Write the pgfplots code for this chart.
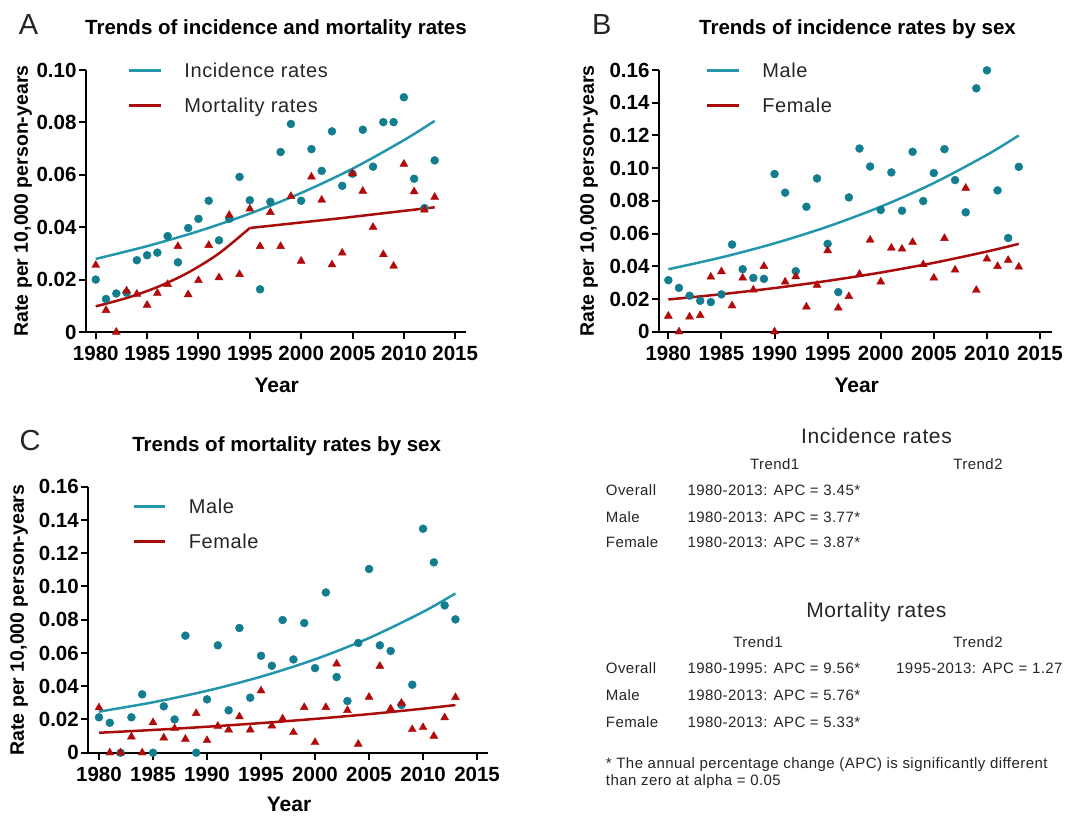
\documentclass[border=0pt]{standalone}
\usepackage{pgfplots}
\pgfplotsset{compat=1.18}
\usepackage{pgfplotstable}
\usepackage{fontspec}
\setmainfont{Liberation Sans}
\newfontfamily\legfont[LetterSpace=3]{Liberation Sans}
\definecolor{tealL}{RGB}{35,150,172}
\definecolor{tealM}{RGB}{18,125,142}
\definecolor{redL}{RGB}{170,12,12}
\definecolor{redM}{RGB}{178,10,10}
\definecolor{txt}{RGB}{40,36,36}

% Panel A data
\pgfplotstableread{
year inc mort
1980 0.0200 0.0255
1981 0.0126 0.0083
1982 0.0147 0.0000
1983 0.0150 0.0157
1984 0.0274 0.0145
1985 0.0293 0.0103
1986 0.0303 0.0148
1987 0.0366 0.0182
1988 0.0266 0.0327
1989 0.0397 0.0143
1990 0.0432 0.0197
1991 0.0501 0.0331
1992 0.0350 0.0208
1993 0.0432 0.0446
1994 0.0592 0.0220
1995 0.0503 0.0470
1996 0.0163 0.0327
1997 0.0497 0.0457
1998 0.0687 0.0327
1999 0.0794 0.0518
2000 0.0501 0.0271
2001 0.0698 0.0592
2002 0.0615 0.0504
2003 0.0766 0.0257
2004 0.0558 0.0302
2005 0.0604 0.0605
2006 0.0772 0.0538
2007 0.0631 0.0400
2008 0.0801 0.0296
2009 0.0801 0.0252
2010 0.0896 0.0641
2011 0.0585 0.0536
2012 0.0473 0.0466
2013 0.0655 0.0515
}\dataA
\pgfplotstableread{
year v
1980 0.0279
1985 0.03277
1990 0.03848
1995 0.04519
2000 0.05307
2005 0.06233
2010 0.07320
2013 0.0806
}\fitAinc
\pgfplotstableread{
year v
1980 0.0098
1983 0.01297
1986 0.01715
1989 0.02269
1992 0.03001
1995 0.0397
}\fitAmortI
\pgfplotstableread{
year v
1995 0.0397
2004 0.0435
2013 0.0476
}\fitAmortII

% Panel B data
\pgfplotstableread{
year male female
1980 0.0315 0.0096
1981 0.0268 0.0000
1982 0.0220 0.0091
1983 0.0189 0.0100
1984 0.0181 0.0335
1985 0.0228 0.0368
1986 0.0533 0.0159
1987 0.0382 0.0329
1988 0.0329 0.0256
1989 0.0323 0.0400
1990 0.0964 0.0000
1991 0.0850 0.0305
1992 0.0370 0.0337
1993 0.0764 0.0152
1994 0.0937 0.0285
1995 0.0537 0.0496
1996 0.0242 0.0146
1997 0.0821 0.0216
1998 0.1120 0.0352
1999 0.1010 0.0561
2000 0.0744 0.0305
2001 0.0974 0.0512
2002 0.0740 0.0506
2003 0.1100 0.0547
2004 0.0799 0.0411
2005 0.0970 0.0329
2006 0.1116 0.0571
2007 0.0927 0.0378
2008 0.0730 0.0878
2009 0.1488 0.0254
2010 0.1598 0.0445
2011 0.0864 0.0400
2012 0.0573 0.0437
2013 0.1008 0.0396
}\dataB
\pgfplotstableread{
year m f
1980 0.0382 0.0197
1985 0.04543 0.02293
1990 0.05403 0.02670
1995 0.06426 0.03108
2000 0.07643 0.03618
2005 0.09090 0.04212
2010 0.10812 0.04902
2013 0.1200 0.0537
}\fitB

% Panel C data
\pgfplotstableread{
year male female
1980 0.0213 0.0271
1981 0.0180 0.0000
1982 0.0000 0.0000
1983 0.0213 0.0096
1984 0.0351 0.0000
1985 0.0000 0.0182
1986 0.0279 0.0090
1987 0.0200 0.0146
1988 0.0704 0.0082
1989 0.0000 0.0237
1990 0.0321 0.0074
1991 0.0646 0.0160
1992 0.0255 0.0138
1993 0.0750 0.0217
1994 0.0331 0.0138
1995 0.0583 0.0373
1996 0.0523 0.0162
1997 0.0798 0.0205
1998 0.0561 0.0122
1999 0.0780 0.0273
2000 0.0509 0.0062
2001 0.0964 0.0273
2002 0.0455 0.0535
2003 0.0311 0.0255
2004 0.0660 0.0052
2005 0.1105 0.0335
2006 0.0646 0.0521
2007 0.0612 0.0265
2008 0.0287 0.0299
2009 0.0409 0.0140
2010 0.1347 0.0152
2011 0.1145 0.0100
2012 0.0886 0.0211
2013 0.0802 0.0333
}\dataC
\pgfplotstableread{
year m f
1980 0.0247 0.0120
1985 0.03033 0.01369
1990 0.03725 0.01563
1995 0.04574 0.01783
2000 0.05617 0.02035
2005 0.06898 0.02322
2010 0.08471 0.02649
2013 0.0958 0.0287
}\fitC

\pgfplotsset{
  panel/.style={
    scale only axis, anchor=south west,
    axis lines=left, axis line style={-, line width=2.2pt, black},
    tick style={line width=2pt, black}, major tick length=7pt, tick align=outside,
    xtick={1980,1985,1990,1995,2000,2005,2010,2015},
    xticklabels={1980,1985,1990,1995,2000,2005,2010,2015},
    ticklabel style={font=\fontsize{20.5}{21}\selectfont\bfseries},
    xticklabel style={yshift=-4pt},
    yticklabel style={xshift=1pt},
    ymin=0, clip=false,
    legend cell align=left,
    legend style={draw=none, fill=none, anchor=north west, inner sep=0pt, outer sep=0pt,
      row sep=21pt, column sep=22pt,
      font=\legfont\fontsize{20}{20}\selectfont\color{txt},
      nodes={inner sep=0pt, text height=14pt, text depth=0pt}},
    legend image code/.code={\draw[#1, line width=3pt] (0pt,0pt) -- (31.6pt,0pt);},
  },
  circ/.style={only marks, mark=*, mark size=4pt, mark options={fill=tealM, draw=tealM}, forget plot},
  tri/.style={only marks, mark=triangle*, mark size=4.6pt, mark options={fill=redM, draw=redM}, forget plot},
}

\begin{document}
\begin{tikzpicture}
\path[use as bounding box] (0pt,0pt) rectangle (1067pt,-815pt);

% ---------- Panel A ----------
\begin{axis}[panel, at={(86pt,-332pt)}, width=380pt, height=262pt,
  xmin=1979.05, xmax=2016.05, ymax=0.10,
  ytick={0,0.02,0.04,0.06,0.08,0.10}, yticklabels={0,0.02,0.04,0.06,0.08,0.10},
  legend style={at={(axis description cs:0.11,1.024)}}]
\addplot[tealL, line width=2.5pt, smooth] table[x=year,y=v]{\fitAinc};
\addlegendentry{Incidence rates}
\addplot[redL, line width=2.5pt, smooth] table[x=year,y=v]{\fitAmortI};
\addlegendentry{Mortality rates}
\addplot[redL, line width=2.5pt, forget plot] table[x=year,y=v]{\fitAmortII};
\addplot[circ] table[x=year,y=inc]{\dataA};
\addplot[tri] table[x=year,y=mort]{\dataA};
\end{axis}

% ---------- Panel B ----------
\begin{axis}[panel, at={(659pt,-331.7pt)}, width=392.7pt, height=261.7pt,
  xmin=1979.12, xmax=2016.1, ymax=0.16,
  ytick={0,0.02,0.04,0.06,0.08,0.10,0.12,0.14,0.16},
  yticklabels={0,0.02,0.04,0.06,0.08,0.10,0.12,0.14,0.16},
  legend style={at={(axis description cs:0.119,1.024)}}]
\addplot[tealL, line width=2.5pt, smooth] table[x=year,y=m]{\fitB};
\addlegendentry{Male}
\addplot[redL, line width=2.5pt, smooth] table[x=year,y=f]{\fitB};
\addlegendentry{Female}
\addplot[circ] table[x=year,y=male]{\dataB};
\addplot[tri] table[x=year,y=female]{\dataB};
\end{axis}

% ---------- Panel C ----------
\begin{axis}[panel, at={(88.3pt,-752.7pt)}, width=400pt, height=266pt,
  xmin=1979.01, xmax=2016.04, ymax=0.16,
  ytick={0,0.02,0.04,0.06,0.08,0.10,0.12,0.14,0.16},
  yticklabels={0,0.02,0.04,0.06,0.08,0.10,0.12,0.14,0.16},
  legend style={at={(axis description cs:0.11,0.951)}}]
\addplot[tealL, line width=2.5pt, smooth] table[x=year,y=m]{\fitC};
\addlegendentry{Male}
\addplot[redL, line width=2.5pt, smooth] table[x=year,y=f]{\fitC};
\addlegendentry{Female}
\addplot[circ] table[x=year,y=male]{\dataC};
\addplot[tri] table[x=year,y=female]{\dataC};
\end{axis}

% ---------- Panel letters, titles, labels ----------
\begin{scope}[every node/.style={inner sep=0pt}]
\node[font=\fontsize{29}{29}\selectfont, text=txt] at (28.5pt,-25pt) {A};
\node[font=\fontsize{29}{29}\selectfont, text=txt] at (601.7pt,-25pt) {B};
\node[font=\fontsize{29}{29}\selectfont, text=txt] at (30pt,-440.7pt) {C};
\node[font=\fontsize{20.5}{21}\selectfont\bfseries] at (276pt,-29pt) {Trends of incidence and mortality rates};
\node[font=\fontsize{20.5}{21}\selectfont\bfseries] at (857.5pt,-29pt) {Trends of incidence rates by sex};
\node[font=\fontsize{20.5}{21}\selectfont\bfseries] at (286.7pt,-446pt) {Trends of mortality rates by sex};
\node[font=\fontsize{19.5}{20}\selectfont\bfseries, rotate=90] at (23pt,-201pt) {Rate per 10,000 person-years};
\node[font=\fontsize{19.5}{20}\selectfont\bfseries, rotate=90] at (589pt,-201pt) {Rate per 10,000 person-years};
\node[font=\fontsize{19.5}{20}\selectfont\bfseries, rotate=90] at (19pt,-620pt) {Rate per 10,000 person-years};
\node[font=\fontsize{21}{21}\selectfont\bfseries] at (276.7pt,-385pt) {Year};
\node[font=\fontsize{21}{21}\selectfont\bfseries] at (856.7pt,-385pt) {Year};
\node[font=\fontsize{21}{21}\selectfont\bfseries] at (289pt,-804.5pt) {Year};
\end{scope}

% ---------- APC table ----------
\begin{scope}[every node/.style={inner sep=0pt, text=txt, font=\legfont\fontsize{15}{15}\selectfont, text height=10.7pt, text depth=0pt}]
\node[font=\legfont\fontsize{21}{21}\selectfont, text height=15pt] at (876.5pt,-436pt) {Incidence rates};
\node at (774.7pt,-464pt) {Trend1};
\node at (978pt,-464pt) {Trend2};
\node[anchor=west] at (605.7pt,-490pt) {Overall};
\node[anchor=west] at (605.7pt,-516.7pt) {Male};
\node[anchor=west] at (605.7pt,-541.7pt) {Female};
\node[anchor=west] at (687.3pt,-490pt) {1980-2013: APC = 3.45*};
\node[anchor=west] at (687.3pt,-516.7pt) {1980-2013: APC = 3.77*};
\node[anchor=west] at (687.3pt,-541.7pt) {1980-2013: APC = 3.87*};
\node[font=\legfont\fontsize{21}{21}\selectfont, text height=15pt] at (876.3pt,-610pt) {Mortality rates};
\node at (758pt,-642.3pt) {Trend1};
\node at (978pt,-642.3pt) {Trend2};
\node[anchor=west] at (605.7pt,-668.3pt) {Overall};
\node[anchor=west] at (605.7pt,-695pt) {Male};
\node[anchor=west] at (605.7pt,-721.7pt) {Female};
\node[anchor=west] at (687.3pt,-668.3pt) {1980-1995: APC = 9.56*};
\node[anchor=west] at (687.3pt,-695pt) {1980-2013: APC = 5.76*};
\node[anchor=west] at (687.3pt,-721.7pt) {1980-2013: APC = 5.33*};
\node[anchor=west] at (896pt,-668.3pt) {1995-2013: APC = 1.27};
\node[anchor=west] at (605.7pt,-763.3pt) {* The annual percentage change (APC) is significantly different};
\node[anchor=west] at (605.7pt,-780pt) {than zero at alpha = 0.05};
\end{scope}
\end{tikzpicture}
\end{document}
